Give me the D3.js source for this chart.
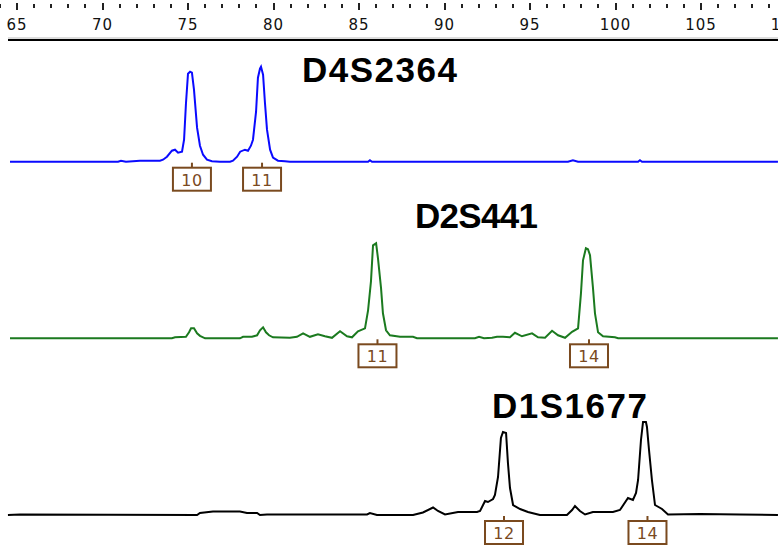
<!DOCTYPE html>
<html>
<head>
<meta charset="utf-8">
<script src="https://cdn.jsdelivr.net/npm/d3@7/dist/d3.min.js"></script>
<style>
  body { margin: 0; background: #fff; }
  svg { display: block; }
</style>
</head>
<body>
<svg id="chart" width="778" height="547"></svg>
<script>
// size axis (bp)
const sizeDomain = [65, 110]
const majorTicks = [65, 70, 75, 80, 85, 90, 95, 100, 105, 110]
const minorTicks = d3.range(64, 111).filter((v) => v % 5 !== 0)

const markerNames = ['D4S2364', 'D2S441', 'D1S1677']

// [size, height]
const d4s2364 = [
  [64.59, 0], [70.91, 0], [71.08, 1], [71.37, 0], [72.19, 1], [72.78, 1], [73.36, 1],
  [73.54, 2], [73.77, 5], [74.06, 11], [74.24, 12], [74.42, 9], [74.65, 10], [74.77, 22],
  [74.88, 58], [75.0, 88], [75.12, 90], [75.23, 89], [75.35, 72], [75.53, 34], [75.7, 16],
  [75.88, 7], [76.11, 2], [76.4, 0.5], [76.87, 0], [77.46, 0], [77.63, 1], [77.87, 5],
  [78.05, 10], [78.33, 12], [78.51, 11], [78.68, 16], [78.8, 22], [78.98, 50], [79.09, 84],
  [79.21, 93], [79.27, 95], [79.39, 87], [79.5, 59], [79.62, 32], [79.8, 12], [79.97, 4],
  [80.26, 1], [80.67, 0.5], [80.96, 0], [85.53, 0], [85.64, 1.5], [85.76, 0], [97.22, 0],
  [97.51, 1.5], [97.81, 0], [101.32, 0], [101.43, 1.5], [101.55, 0], [109.5, 0]
]
const d2s441 = [
  [64.59, 0], [74.06, 0], [74.24, 1], [74.88, 1.5], [75.06, 6], [75.18, 10], [75.35, 10],
  [75.53, 5], [75.7, 2.5], [76.0, 0], [78.04, 0], [78.22, 1.5], [78.74, 1.5], [79.04, 3],
  [79.21, 8], [79.39, 11], [79.56, 6], [79.74, 3], [79.97, 1], [80.96, 0.5], [81.37, 1.5],
  [81.73, 5], [82.13, 1.5], [82.6, 4], [83.01, 2], [83.42, 0.5], [83.89, 7], [84.3, 2],
  [84.59, 1], [84.94, 7], [85.35, 10], [85.53, 28], [85.7, 57], [85.82, 93], [86.0, 95],
  [86.11, 80], [86.29, 50], [86.4, 25], [86.58, 8], [86.81, 3], [87.4, 1.5], [88.16, 1.5],
  [88.39, 0], [91.78, 0], [92.02, 1.5], [92.31, 0], [92.78, 0.5], [93.07, 1.5], [93.42, 1.5],
  [93.83, 1], [94.12, 5.5], [94.53, 2], [95.12, 5], [95.47, 1], [95.88, 0.5], [96.29, 7.5],
  [96.64, 3], [97.05, 0.5], [97.46, 6.5], [97.81, 10], [97.98, 45], [98.1, 78], [98.27, 90],
  [98.39, 89], [98.51, 83], [98.68, 51], [98.8, 25], [98.98, 6], [99.27, 2], [99.97, 1],
  [100.15, 0], [109.5, 0]
]
const d1s1677 = [
  [64.47, 0], [65.18, 0.5], [75.53, 0], [75.7, 2], [76.46, 3.5], [78.04, 3.5], [78.45, 2],
  [79.04, 2], [79.21, 0], [79.62, 0.5], [85.47, 0.5], [85.64, 2], [86.05, 0], [88.16, 0],
  [88.74, 2.5], [89.33, 7.5], [89.62, 4], [90.03, 0.5], [90.79, 3], [91.9, 3], [92.08, 4],
  [92.37, 14], [92.54, 13], [92.84, 16], [92.95, 20], [93.13, 38], [93.3, 77], [93.42, 83],
  [93.6, 82], [93.71, 52], [93.83, 27], [94.01, 10], [94.42, 6], [94.88, 3], [95.58, 0],
  [97.16, 0], [97.46, 5], [97.63, 9], [97.92, 4], [98.22, 0.5], [98.68, 3], [99.85, 3],
  [100.26, 5], [100.73, 17], [101.02, 15], [101.2, 22], [101.32, 35], [101.49, 75],
  [101.61, 93], [101.78, 93], [101.84, 88], [101.96, 65], [102.13, 35], [102.31, 10],
  [102.72, 6], [103.07, 0.5], [104.94, 1], [107.28, 0.5], [109.5, 0]
]

// allele calls: [size, label]
const d4s2364Alleles = [[75.23, '10'], [79.33, '11']]
const d2s441Alleles = [[86.08, '11'], [98.45, '14']]
const d1s1677Alleles = [[93.48, '12'], [101.87, '14']]

const traces = [d4s2364, d2s441, d1s1677]
const alleles = [d4s2364Alleles, d2s441Alleles, d1s1677Alleles]

// layout / style per panel
const layout = [
  { base: 161.7, color: '#0a0aff', titleX: 302, titleY: 82, titleW: 155 },
  { base: 338.3, color: '#1b7a1f', titleX: 415, titleY: 228, titleW: 123 },
  { base: 515, color: '#000000', titleX: 492, titleY: 418, titleW: 155 },
]
const boxColor = '#7a4a1f'
const width = 778

const svg = d3.select('#chart')
const x = d3.scaleLinear().domain(sizeDomain).range([17, 17 + 45 * 17.1])

// top ruler
const ruler = svg.append('g')
ruler.selectAll('.minor')
  .data(minorTicks)
  .join('line')
  .attr('class', 'minor')
  .attr('x1', (d) => Math.round(x(d)))
  .attr('x2', (d) => Math.round(x(d)))
  .attr('y1', 4).attr('y2', 8)
  .attr('stroke', '#222').attr('stroke-width', 2)
ruler.selectAll('.major')
  .data(majorTicks)
  .join('line')
  .attr('class', 'major')
  .attr('x1', (d) => Math.round(x(d)))
  .attr('x2', (d) => Math.round(x(d)))
  .attr('y1', 3).attr('y2', 10)
  .attr('stroke', '#222').attr('stroke-width', 2)
ruler.selectAll('.label')
  .data(majorTicks)
  .join('text')
  .attr('class', 'label')
  .attr('x', (d) => x(d))
  .attr('y', 30)
  .attr('text-anchor', 'middle')
  .attr('font-family', 'DejaVu Sans, sans-serif')
  .attr('font-size', 15)
  .attr('letter-spacing', 1)
  .attr('fill', '#111')
  .text((d) => d)

svg.append('line')
  .attr('x1', 8).attr('x2', width).attr('y1', 38).attr('y2', 38)
  .attr('stroke', '#bbb').attr('stroke-width', 1)
svg.append('line')
  .attr('x1', 8).attr('x2', width).attr('y1', 40).attr('y2', 40)
  .attr('stroke', '#000').attr('stroke-width', 2)

traces.forEach((trace, i) => {
  const L = layout[i]
  const y = d3.scaleLinear().domain([0, 100]).range([L.base, L.base - 100])
  const line = d3.line().x((d) => x(d[0])).y((d) => y(d[1]))

  const g = svg.append('g')

  g.append('path')
    .attr('d', line(trace))
    .attr('fill', 'none')
    .attr('stroke', L.color)
    .attr('stroke-width', 2)

  g.append('text')
    .attr('x', L.titleX)
    .attr('y', L.titleY)
    .attr('font-family', 'Liberation Sans, Arial, sans-serif')
    .attr('font-weight', 'bold')
    .attr('font-size', 35)
    .attr('textLength', L.titleW)
    .attr('fill', '#000')
    .text(markerNames[i])

  const calls = g.selectAll('.call')
    .data(alleles[i])
    .join('g')
    .attr('class', 'call')
    .attr('transform', (d) => `translate(${x(d[0])},${L.base})`)

  calls.append('line')
    .attr('y1', 1).attr('y2', 6)
    .attr('stroke', boxColor).attr('stroke-width', 2)
  calls.append('rect')
    .attr('x', -19).attr('y', 6).attr('width', 38).attr('height', 23)
    .attr('fill', '#fff').attr('stroke', boxColor).attr('stroke-width', 2)
  calls.append('text')
    .attr('y', 24)
    .attr('text-anchor', 'middle')
    .attr('font-family', 'DejaVu Sans, sans-serif')
    .attr('font-size', 16)
    .attr('letter-spacing', 0.5)
    .attr('fill', boxColor)
    .text((d) => d[1])
})
</script>
</body>
</html>
